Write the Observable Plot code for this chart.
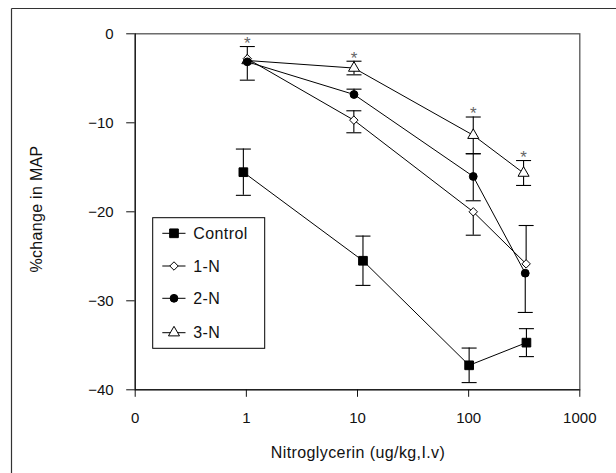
<!DOCTYPE html>
<html>
<head>
<meta charset="utf-8">
<script src="https://cdn.jsdelivr.net/npm/d3@7"></script>
<script src="https://cdn.jsdelivr.net/npm/@observablehq/plot@0.6"></script>
<style>
  html, body { margin: 0; padding: 0; background: #fff; }
  #chart { width: 616px; height: 473px; }
</style>
</head>
<body>
<div id="chart"></div>
<script>
// ---- data (null = error bar half not drawn) ----
const seriesNames = ["Control", "1-N", "2-N", "3-N"];

const controlDose = [0.94, 11.2, 101, 331];
const controlMean = [-15.55, -25.5, -37.25, -34.7];
const controlErrUp   = [2.6, 2.77, 1.94, 1.57];
const controlErrDown = [2.6, 2.77, 1.94, 1.57];

const n1Dose = [1.02, 9.27, 110, 329];
const n1Mean = [-2.8, -9.7, -20.0, -25.85];
const n1ErrUp   = [null, 1.05, null, 4.31];
const n1ErrDown = [null, 1.42, 2.63, null];

const n2Dose = [1.02, 9.3, 110, 323];
const n2Mean = [-3.15, -6.82, -16.03, -26.9];
const n2ErrUp   = [null, 0.6, 2.55, null];
const n2ErrDown = [2.06, null, 2.73, 4.41];

const n3Dose = [1.02, 9.3, 110, 312];
const n3Mean = [-3.0, -3.85, -11.4, -15.65];
const n3ErrUp   = [1.57, 0.77, 2.05, 1.41];
const n3ErrDown = [null, 0.76, 2.07, 1.39];

const xTicks = [0.1, 1, 10, 100, 1000];
const xTickLabels = ["0", "1", "10", "100", "1000"];
const yTicks = [0, -10, -20, -30, -40];

const xTitle = "Nitroglycerin (ug/kg,I.v)";
const yTitle = "%change in MAP";

// ---- build tables ----
const seriesData = {
  "Control": [controlDose, controlMean, controlErrUp, controlErrDown],
  "1-N": [n1Dose, n1Mean, n1ErrUp, n1ErrDown],
  "2-N": [n2Dose, n2Mean, n2ErrUp, n2ErrDown],
  "3-N": [n3Dose, n3Mean, n3ErrUp, n3ErrDown]
};
const table = [];
const errs = [];
for (const name of seriesNames) {
  const [d, m, up, down] = seriesData[name];
  d.forEach((dose, i) => {
    table.push({series: name, dose, mean: m[i], up: up[i], down: down[i]});
    if (up[i] != null) errs.push({series: name, dose, from: m[i], to: m[i] + up[i]});
    if (down[i] != null) errs.push({series: name, dose, from: m[i], to: m[i] - down[i]});
  });
}

// styles
const style = {
  "Control": {symbol: "square", fill: "black", r: 4.9},
  "1-N": {symbol: "diamond2", fill: "white", r: 3.8},
  "2-N": {symbol: "circle", fill: "black", r: 3.9},
  "3-N": {symbol: "triangle", fill: "white", r: 4.1}
};
const drawOrder = ["3-N", "1-N", "2-N", "Control"];

const capSymbol = {
  draw(ctx, size) {
    const w = Math.sqrt(size / Math.PI);
    ctx.moveTo(-w, 0);
    ctx.lineTo(w, 0);
  }
};

const FONT = "Liberation Sans, Arial, sans-serif";

const svg = Plot.plot({
  width: 616,
  height: 473,
  marginLeft: 134.7,
  marginRight: 36.7,
  marginTop: 33.3,
  marginBottom: 83.7,
  style: {fontFamily: FONT, fontSize: "15px", color: "#111", background: "white"},
  x: {type: "log", domain: [0.1, 1000]},
  y: {domain: [-40, 0]},
  marks: [
    Plot.frame({stroke: "#555", strokeWidth: 1.3}),
    Plot.ruleY([-40], {stroke: "black"}),
    Plot.ruleX([0.1], {stroke: "black"}),
    Plot.axisY({ticks: yTicks, tickSize: 8.5, tickPadding: 13, fontSize: 15, label: null, tickFormat: d => d3.format("")(d).replace("-", "\u2212")}),
    Plot.axisX({ticks: xTicks, tickSize: 7.5, tickPadding: 15, fontSize: 15, label: null,
      tickFormat: d => xTickLabels[xTicks.indexOf(d)]}),
    Plot.line(table, {x: "dose", y: "mean", z: "series", stroke: "black", strokeWidth: 1}),
    Plot.ruleX(errs, {x: "dose", y1: "from", y2: "to", stroke: "black", strokeWidth: 1.1}),
    Plot.dot(errs, {x: "dose", y: "to", symbol: capSymbol, r: 7.5, fill: "none", stroke: "black", strokeWidth: 1.1}),
    ...drawOrder.map(name => Plot.dot(table.filter(d => d.series === name), {
      x: "dose", y: "mean", symbol: style[name].symbol, r: style[name].r,
      fill: style[name].fill, stroke: "black", strokeWidth: 1
    })),
    Plot.text(table.filter(d => d.series === "3-N"), {
      x: "dose", y: d => d.mean + d.up, text: () => "*", dy: -3,
      fontSize: 17, fill: "#666", lineAnchor: "middle"
    })
  ]
});

const s = d3.select(svg);
// outer figure border (top & left visible)
s.append("line").attr("x1", 11.5).attr("y1", 8.5).attr("x2", 616).attr("y2", 8.5).attr("stroke", "#333").attr("stroke-width", 1.2);
s.append("line").attr("x1", 11.5).attr("y1", 8.5).attr("x2", 11.5).attr("y2", 473).attr("stroke", "#333").attr("stroke-width", 1.2);

// axis titles
s.append("text").attr("x", 358).attr("y", 458).attr("text-anchor", "middle")
  .attr("font-family", FONT).attr("font-size", 16).attr("letter-spacing", 0.4).attr("fill", "#111").text(xTitle);
s.append("text").attr("transform", "translate(42,209) rotate(-90)").attr("text-anchor", "middle")
  .attr("font-family", FONT).attr("font-size", 16).attr("letter-spacing", 0.3).attr("fill", "#111").text(yTitle);

// legend
const lg = s.append("g").attr("text-anchor", "start");
lg.append("rect").attr("x", 152.7).attr("y", 217.7).attr("width", 112).attr("height", 130.6)
  .attr("fill", "white").attr("stroke", "black").attr("stroke-width", 1);
const entryY = [233.3, 266, 298.3, 332.7];
const d3sym = {square: d3.symbolSquare, diamond2: d3.symbolDiamond2, circle: d3.symbolCircle, triangle: d3.symbolTriangle};
seriesNames.forEach((name, i) => {
  const y = entryY[i];
  lg.append("line").attr("x1", 162.3).attr("x2", 185.5).attr("y1", y).attr("y2", y).attr("stroke", "black");
  const st = style[name];
  lg.append("path").attr("transform", `translate(174,${y})`)
    .attr("d", d3.symbol(d3sym[st.symbol], st.r * st.r * Math.PI)())
    .attr("fill", st.fill).attr("stroke", "black");
  lg.append("text").attr("x", 193.3).attr("y", y).attr("dy", "0.35em").attr("text-anchor", "start")
    .attr("font-family", FONT).attr("font-size", 16).attr("letter-spacing", 0.4).attr("fill", "#111").text(name);
});

document.getElementById("chart").appendChild(svg);
</script>
</body>
</html>
